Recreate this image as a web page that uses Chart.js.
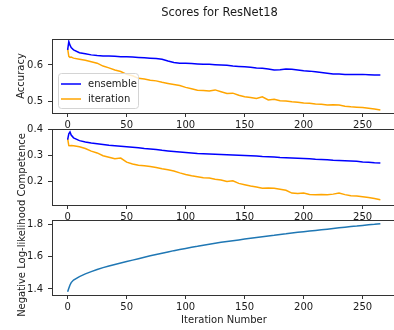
<!DOCTYPE html>
<html>
<head>
<meta charset="utf-8">
<script src="https://cdn.jsdelivr.net/npm/chart.js@4"></script>
<style>
  html, body { margin: 0; padding: 0; background: #fff; overflow: hidden; }
  #fig { position: relative; width: 394px; height: 330px; overflow: hidden; }
  #fig canvas { position: absolute; left: 0; top: 0; }
</style>
</head>
<body>
<div id="fig">
  <canvas id="accChart" width="400" height="330"></canvas>
  <canvas id="compChart" width="400" height="330"></canvas>
  <canvas id="nllChart" width="400" height="330"></canvas>
</div>
<script>
const ITERATIONS = [0, 1, 2, 3, 5, 10, 15, 20, 25, 30, 35, 40, 45, 50, 55, 60, 65, 70, 75, 80, 85, 90, 95, 100,
  105, 110, 115, 120, 125, 130, 135, 140, 145, 150, 155, 160, 165, 170, 175, 180, 185, 190, 195, 200,
  205, 210, 215, 220, 225, 230, 235, 240, 245, 250, 255, 260, 265];

const ACC_ENSEMBLE = [0.642, 0.665, 0.655, 0.648,
  0.642, 0.634, 0.631, 0.628, 0.626, 0.625, 0.625, 0.624, 0.623, 0.623,
  0.622, 0.621, 0.620, 0.619, 0.618, 0.616, 0.611, 0.607, 0.605, 0.605,
  0.604, 0.603, 0.602, 0.602, 0.601, 0.600, 0.599, 0.597, 0.596, 0.595,
  0.594, 0.592, 0.591, 0.589, 0.586, 0.587, 0.589, 0.588, 0.586, 0.584,
  0.583, 0.581, 0.579, 0.577, 0.575, 0.575, 0.574, 0.574, 0.574, 0.574,
  0.573, 0.572, 0.572];
const ACC_ITERATION = [0.645, 0.624, 0.621, 0.622,
  0.619, 0.616, 0.613, 0.609, 0.605, 0.597, 0.592, 0.586, 0.582, 0.574,
  0.570, 0.563, 0.561, 0.558, 0.556, 0.552, 0.549, 0.546, 0.543, 0.538,
  0.534, 0.530, 0.529, 0.528, 0.531, 0.526, 0.521, 0.522, 0.516, 0.512,
  0.510, 0.507, 0.512, 0.503, 0.505, 0.501, 0.500, 0.498, 0.497, 0.495,
  0.494, 0.492, 0.491, 0.489, 0.490, 0.489, 0.486, 0.484, 0.483, 0.482,
  0.480, 0.478, 0.475];

const COMP_ENSEMBLE = [0.362, 0.385, 0.392, 0.380,
  0.369, 0.358, 0.353, 0.349, 0.346, 0.343, 0.340, 0.338, 0.336, 0.334,
  0.332, 0.330, 0.327, 0.325, 0.323, 0.320, 0.318, 0.316, 0.314, 0.312,
  0.310, 0.308, 0.307, 0.306, 0.305, 0.304, 0.303, 0.302, 0.301, 0.300,
  0.299, 0.298, 0.296, 0.295, 0.294, 0.292, 0.291, 0.290, 0.289, 0.288,
  0.287, 0.285, 0.284, 0.283, 0.281, 0.280, 0.279, 0.278, 0.277, 0.275,
  0.274, 0.272, 0.271];
const COMP_ITERATION = [0.366, 0.339, 0.338, 0.339,
  0.338, 0.334, 0.327, 0.317, 0.310, 0.299, 0.293, 0.287, 0.290, 0.274,
  0.267, 0.262, 0.260, 0.257, 0.253, 0.248, 0.244, 0.239, 0.232, 0.226,
  0.221, 0.217, 0.213, 0.212, 0.207, 0.204, 0.198, 0.201, 0.191, 0.186,
  0.181, 0.177, 0.172, 0.173, 0.172, 0.168, 0.164, 0.153, 0.151, 0.153,
  0.148, 0.147, 0.148, 0.147, 0.149, 0.153, 0.147, 0.143, 0.142, 0.139,
  0.136, 0.132, 0.127];

const NLL = [1.383, 1.405, 1.425, 1.440,
  1.456, 1.477, 1.494, 1.508, 1.521, 1.533, 1.543, 1.553, 1.562, 1.571,
  1.580, 1.589, 1.598, 1.607, 1.615, 1.623, 1.631, 1.639, 1.646, 1.653,
  1.660, 1.666, 1.673, 1.679, 1.685, 1.691, 1.696, 1.701, 1.706, 1.711,
  1.716, 1.721, 1.726, 1.731, 1.735, 1.740, 1.744, 1.749, 1.753, 1.757,
  1.761, 1.765, 1.769, 1.773, 1.777, 1.781, 1.785, 1.789, 1.792, 1.796,
  1.800, 1.803, 1.807];

const X_TICKS = [0, 50, 100, 150, 200, 250];
const ACC_TICKS = [0.5, 0.6];
const COMP_TICKS = [0.2, 0.3, 0.4];
const NLL_TICKS = [1.4, 1.6, 1.8];

const TEXT = "#1a1a1a";
const SPINE = "#333";
const FONT = "'DejaVu Sans', sans-serif";

Chart.defaults.font.family = FONT;
Chart.defaults.font.size = 10;
Chart.defaults.color = TEXT;

const points = (ys) => ITERATIONS.map((x, i) => ({ x, y: ys[i] }));

// full box around each plot area
const frame = {
  id: "frame",
  afterDraw(chart) {
    const { ctx, chartArea: a } = chart;
    ctx.save();
    ctx.strokeStyle = SPINE;
    ctx.lineWidth = 1;
    ctx.strokeRect(Math.round(a.left) + 0.5, Math.round(a.top) + 0.5,
      Math.round(a.right - a.left), Math.round(a.bottom - a.top));
    ctx.restore();
  },
};

// free text placed in figure coordinates (suptitle, shared ylabel)
const figText = {
  id: "figText",
  afterDraw(chart, args, opts) {
    const ctx = chart.ctx;
    for (const t of opts.items || []) {
      ctx.save();
      ctx.translate(t.x, t.y);
      ctx.rotate(t.rotation || 0);
      ctx.font = t.font;
      ctx.fillStyle = TEXT;
      ctx.textAlign = "center";
      ctx.textBaseline = "alphabetic";
      ctx.fillText(t.text, 0, 0);
      ctx.restore();
    }
  },
};

// matplotlib-style legend box inside the top plot
const boxLegend = {
  id: "boxLegend",
  afterDraw(chart, args, opts) {
    if (!opts.show) return;
    const ctx = chart.ctx;
    ctx.save();
    ctx.beginPath();
    if (ctx.roundRect) ctx.roundRect(58.5, 73.5, 80, 35, 3);
    else ctx.rect(58.5, 73.5, 80, 35);
    ctx.fillStyle = "rgba(255,255,255,0.8)";
    ctx.fill();
    ctx.strokeStyle = "#d4d4d4";
    ctx.lineWidth = 1;
    ctx.stroke();
    chart.data.datasets.forEach((ds, i) => {
      const y = 84 + i * 15;
      ctx.strokeStyle = ds.borderColor;
      ctx.lineWidth = 1.5;
      ctx.beginPath();
      ctx.moveTo(61, y);
      ctx.lineTo(81, y);
      ctx.stroke();
      ctx.fillStyle = TEXT;
      ctx.font = "10px " + FONT;
      ctx.textBaseline = "middle";
      ctx.textAlign = "left";
      ctx.fillText(ds.label, 88, y);
    });
    ctx.restore();
  },
};

function makePlot(id, cfg) {
  return new Chart(document.getElementById(id), {
    type: "line",
    data: { datasets: cfg.datasets },
    plugins: [frame, figText, boxLegend],
    options: {
      responsive: false,
      animation: false,
      devicePixelRatio: 1,
      layout: { padding: { top: cfg.top, right: 4, bottom: 0, left: 0 } },
      elements: { point: { radius: 0 }, line: { borderWidth: 1.5, tension: 0 } },
      scales: {
        x: {
          type: "linear",
          min: -13.25,
          max: 278.25,
          afterBuildTicks: (s) => { s.ticks = X_TICKS.map((v) => ({ value: v })); },
          afterFit: (s) => { s.height = cfg.xHeight; },
          ticks: { padding: 2, maxRotation: 0, callback: (v) => String(v) },
          grid: { drawOnChartArea: false, drawTicks: true, tickLength: 4, color: SPINE },
          border: { display: false },
          title: cfg.xTitle
            ? { display: true, text: cfg.xTitle, padding: { top: 0, bottom: 4 }, color: TEXT }
            : { display: false },
        },
        y: {
          min: cfg.yMin,
          max: cfg.yMax,
          afterBuildTicks: (s) => { s.ticks = cfg.yTicks.map((v) => ({ value: v })); },
          afterFit: (s) => { s.width = 52; },
          ticks: { padding: 5, callback: (v) => v.toFixed(1) },
          grid: { drawOnChartArea: false, drawTicks: true, tickLength: 4, color: SPINE },
          border: { display: false },
          title: cfg.yTitle
            ? { display: true, text: cfg.yTitle, padding: { top: 15, bottom: 0 }, color: TEXT }
            : { display: false },
        },
      },
      plugins: {
        legend: { display: false },
        tooltip: { enabled: false },
        figText: { items: cfg.texts || [] },
        boxLegend: { show: !!cfg.legend },
      },
    },
  });
}

makePlot("accChart", {
  top: 39,
  xHeight: 330 - 113,
  yMin: 0.467,
  yMax: 0.672,
  yTicks: ACC_TICKS,
  yTitle: "Accuracy",
  legend: true,
  texts: [{ text: "Scores for ResNet18", x: 219.5, y: 16, font: "11.5px " + FONT }],
  datasets: [
    { label: "ensemble", data: points(ACC_ENSEMBLE), borderColor: "#0000ff" },
    { label: "iteration", data: points(ACC_ITERATION), borderColor: "#ffa500" },
  ],
});

makePlot("compChart", {
  top: 129,
  xHeight: 330 - 205,
  yMin: 0.1065,
  yMax: 0.4035,
  yTicks: COMP_TICKS,
  datasets: [
    { label: "ensemble", data: points(COMP_ENSEMBLE), borderColor: "#0000ff" },
    { label: "iteration", data: points(COMP_ITERATION), borderColor: "#ffa500" },
  ],
});

makePlot("nllChart", {
  top: 220,
  xHeight: 330 - 295,
  yMin: 1.3625,
  yMax: 1.83,
  yTicks: NLL_TICKS,
  xTitle: "Iteration Number",
  texts: [{ text: "Negative Log-likelihood Competence", x: 24.5, y: 225, rotation: -Math.PI / 2, font: "10px " + FONT }],
  datasets: [
    { label: "NLL", data: points(NLL), borderColor: "#1f77b4" },
  ],
});
</script>
</body>
</html>
